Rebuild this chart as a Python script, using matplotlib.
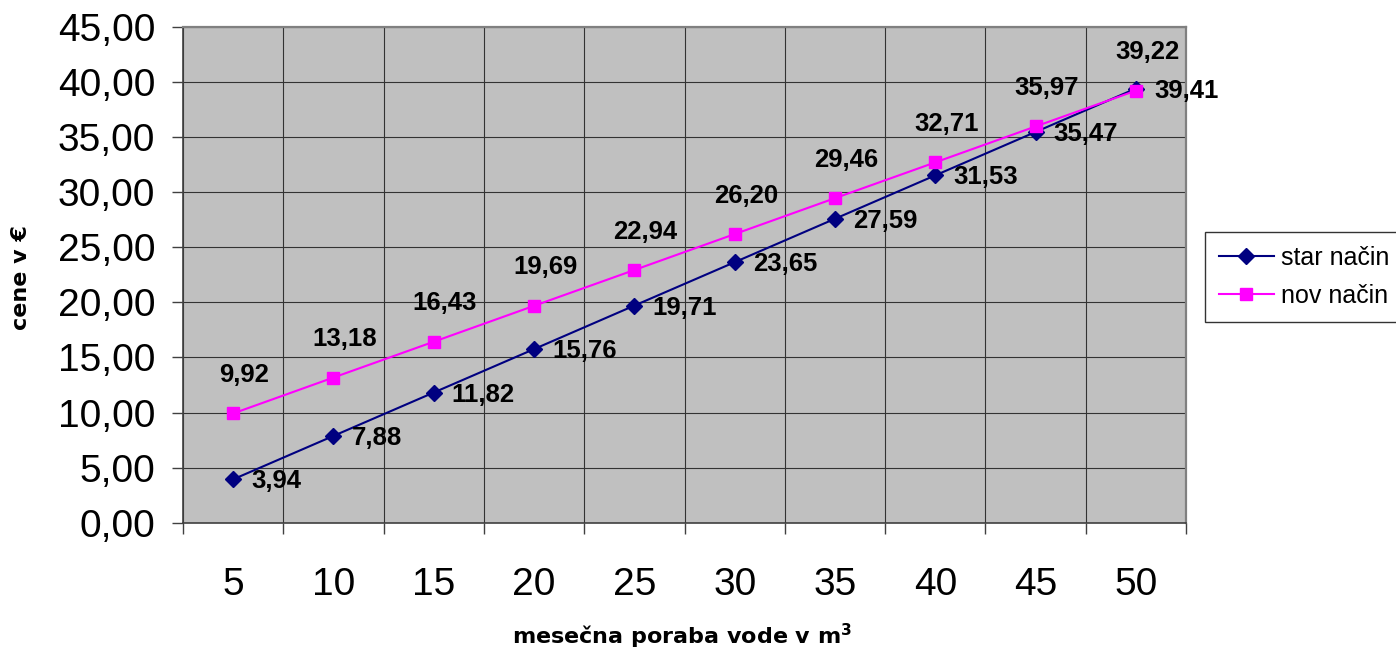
import numpy as np
import matplotlib.pyplot as plt

# data
poraba = [5, 10, 15, 20, 25, 30, 35, 40, 45, 50]
star_nacin = [3.94, 7.88, 11.82, 15.76, 19.71, 23.65, 27.59, 31.53, 35.47, 39.41]
nov_nacin = [9.92, 13.18, 16.43, 19.69, 22.94, 26.20, 29.46, 32.71, 35.97, 39.22]
y_ticks = [0, 5, 10, 15, 20, 25, 30, 35, 40, 45]


def fmt(v):
    return f"{v:.2f}".replace('.', ',')


plt.rcParams['font.family'] = ['Liberation Sans', 'DejaVu Sans']

fig = plt.figure(figsize=(13.96, 6.53), dpi=100)
ax = fig.add_axes([0.1311, 0.1995, 0.7185, 0.7592])
ax.set_facecolor('#C0C0C0')

x = np.arange(len(poraba))

# lines with markers
ax.plot(x, star_nacin, color='#000080', lw=1.5, marker='D', ms=8,
        label='star način', zorder=3)
ax.plot(x, nov_nacin, color='#FF00FF', lw=1.5, marker='s', ms=8,
        label='nov način', zorder=4)

# data labels
for xi, v in zip(x, star_nacin):
    ax.annotate(fmt(v), (xi, v), xytext=(13, -1.5), textcoords='offset points',
                ha='left', va='center', fontsize=18.5, fontweight='bold')
for xi, v in zip(x, nov_nacin):
    ax.annotate(fmt(v), (xi, v), xytext=(8, 19), textcoords='offset points',
                ha='center', va='bottom', fontsize=18.5, fontweight='bold')

# axes limits / ticks
ax.set_xlim(-0.5, len(poraba) - 0.5)
ax.set_ylim(0, 45)
ax.set_yticks(y_ticks)
ax.set_yticklabels([fmt(v) for v in y_ticks], fontsize=28)

ax.set_xticks(np.arange(-0.5, len(poraba), 1.0))
ax.set_xticklabels([])
ax.set_xticks(x, minor=True)
ax.set_xticklabels([str(p) for p in poraba], minor=True, fontsize=28)
ax.tick_params(axis='x', which='major', length=8, width=1, color='#404040', direction='out')
ax.tick_params(axis='x', which='minor', length=0, pad=32)
ax.tick_params(axis='y', length=8, width=1, color='#404040', direction='out', pad=12)

ax.set_axisbelow(True)
ax.grid(True, which='major', color='#333333', lw=0.8)

for s in ['left', 'bottom']:
    ax.spines[s].set_color('#404040')
    ax.spines[s].set_linewidth(1.2)
for s in ['top', 'right']:
    ax.spines[s].set_color('#808080')
    ax.spines[s].set_linewidth(1.6)

# axis titles
fig.text(682 / 1396, (653 - 636) / 653, 'mesečna poraba vode v m$^\\mathbf{3}$',
         ha='center', va='center', fontsize=16, fontweight='bold', family='DejaVu Sans')
fig.text(21 / 1396, (653 - 278) / 653, 'cene v €', rotation=90,
         ha='center', va='center', fontsize=16, fontweight='bold', family='DejaVu Sans')

leg = fig.legend(loc='upper left', bbox_to_anchor=(1205 / 1396, (653 - 232) / 653),
                 fontsize=18, frameon=True, fancybox=False, borderaxespad=0,
                 handlelength=2.2, handletextpad=0.3, labelspacing=0.57,
                 borderpad=0.55)
leg.get_frame().set_edgecolor('black')
leg.get_frame().set_linewidth(1)

fig.savefig('out.png', dpi=100)
